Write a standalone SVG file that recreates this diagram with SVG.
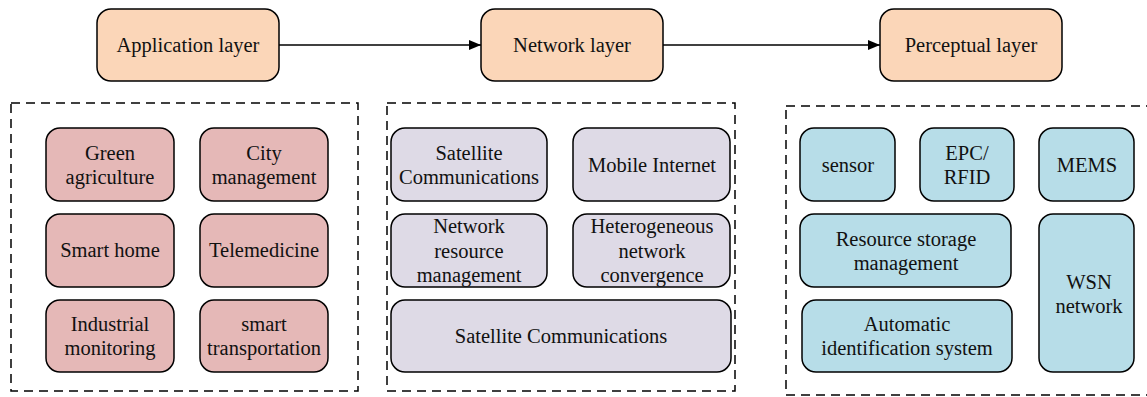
<svg xmlns="http://www.w3.org/2000/svg" width="1147" height="397" viewBox="0 0 1147 397">
<defs>
<marker id="arr" markerWidth="12" markerHeight="10" refX="12" refY="5" orient="auto" markerUnits="userSpaceOnUse">
<path d="M0,0 L12,5 L0,10 Z" fill="#000"/>
</marker>
</defs>
<style>
text{font-family:'Liberation Serif','Times New Roman',Times,serif;font-size:20.5px;fill:#111;text-anchor:middle}
.top{fill:#FBD6B8;stroke:#000;stroke-width:1.5}
.app{fill:#E5B8B7;stroke:#000;stroke-width:1.5}
.net{fill:#DEDAE6;stroke:#000;stroke-width:1.5}
.per{fill:#B7DDE8;stroke:#000;stroke-width:1.5}
.cont{fill:none;stroke:#000;stroke-width:1.5;stroke-dasharray:9,6}
.conn{stroke:#000;stroke-width:1.5;fill:none}
</style>
<rect width="1147" height="397" fill="#fff"/>
<g id="connectors">
<line class="conn" x1="279" y1="45" x2="481" y2="45" marker-end="url(#arr)"/>
<line class="conn" x1="663" y1="45" x2="880" y2="45" marker-end="url(#arr)"/>
</g>
<g id="application-layer"><rect class="top" x="97" y="9" width="182" height="72" rx="14"/><text x="188" y="52">Application layer</text></g>
<g id="network-layer"><rect class="top" x="481" y="9" width="182" height="72" rx="14"/><text x="572" y="52">Network layer</text></g>
<g id="perceptual-layer"><rect class="top" x="880" y="9" width="182" height="72" rx="14"/><text x="971" y="52">Perceptual layer</text></g>

<g id="application-group"><rect class="cont" x="11" y="103" width="347" height="288"/></g>
<g id="network-group"><rect class="cont" x="387" y="103" width="348" height="288"/></g>
<g id="perceptual-group"><rect class="cont" x="786" y="106" width="370" height="289"/></g>

<g id="green-agriculture"><rect class="app" x="46" y="128" width="128" height="73" rx="14"/><text x="110" y="160">Green</text><text x="110" y="184">agriculture</text></g>
<g id="city-management"><rect class="app" x="200" y="128" width="128" height="73" rx="14"/><text x="264" y="160">City</text><text x="264" y="184">management</text></g>
<g id="smart-home"><rect class="app" x="46" y="214" width="128" height="73" rx="14"/><text x="110" y="257">Smart home</text></g>
<g id="telemedicine"><rect class="app" x="200" y="214" width="128" height="73" rx="14"/><text x="264" y="257">Telemedicine</text></g>
<g id="industrial-monitoring"><rect class="app" x="46" y="300" width="128" height="72" rx="14"/><text x="110" y="331">Industrial</text><text x="110" y="355">monitoring</text></g>
<g id="smart-transportation"><rect class="app" x="200" y="300" width="128" height="72" rx="14"/><text x="264" y="331">smart</text><text x="264" y="355">transportation</text></g>

<g id="satellite-communications-1"><rect class="net" x="391" y="128" width="156" height="73" rx="14"/><text x="469" y="160">Satellite</text><text x="469" y="184">Communications</text></g>
<g id="mobile-internet"><rect class="net" x="573" y="128" width="157" height="73" rx="14"/><text x="652" y="172">Mobile Internet</text></g>
<g id="network-resource-management"><rect class="net" x="391" y="214" width="156" height="73" rx="14"/><text x="469" y="233">Network</text><text x="469" y="258">resource</text><text x="469" y="282">management</text></g>
<g id="heterogeneous-network-convergence"><rect class="net" x="573" y="214" width="157" height="73" rx="14"/><text x="652" y="233">Heterogeneous</text><text x="652" y="258">network</text><text x="652" y="282">convergence</text></g>
<g id="satellite-communications-2"><rect class="net" x="391" y="300" width="340" height="72" rx="14"/><text x="561" y="343">Satellite Communications</text></g>

<g id="sensor"><rect class="per" x="800" y="128" width="95" height="73" rx="14"/><text x="848" y="172">sensor</text></g>
<g id="epc-rfid"><rect class="per" x="920" y="128" width="94" height="73" rx="14"/><text x="967" y="160">EPC/</text><text x="967" y="184">RFID</text></g>
<g id="mems"><rect class="per" x="1039" y="128" width="95" height="73" rx="14"/><text x="1087" y="172">MEMS</text></g>
<g id="resource-storage-management"><rect class="per" x="800" y="214" width="211" height="73" rx="14"/><text x="906" y="246">Resource storage</text><text x="906" y="270">management</text></g>
<g id="automatic-identification-system"><rect class="per" x="802" y="300" width="210" height="72" rx="14"/><text x="907" y="331">Automatic</text><text x="907" y="355">identification system</text></g>
<g id="wsn-network"><rect class="per" x="1039" y="214" width="95" height="158" rx="14"/><text x="1089" y="289">WSN</text><text x="1089" y="313">network</text></g>
</svg>
